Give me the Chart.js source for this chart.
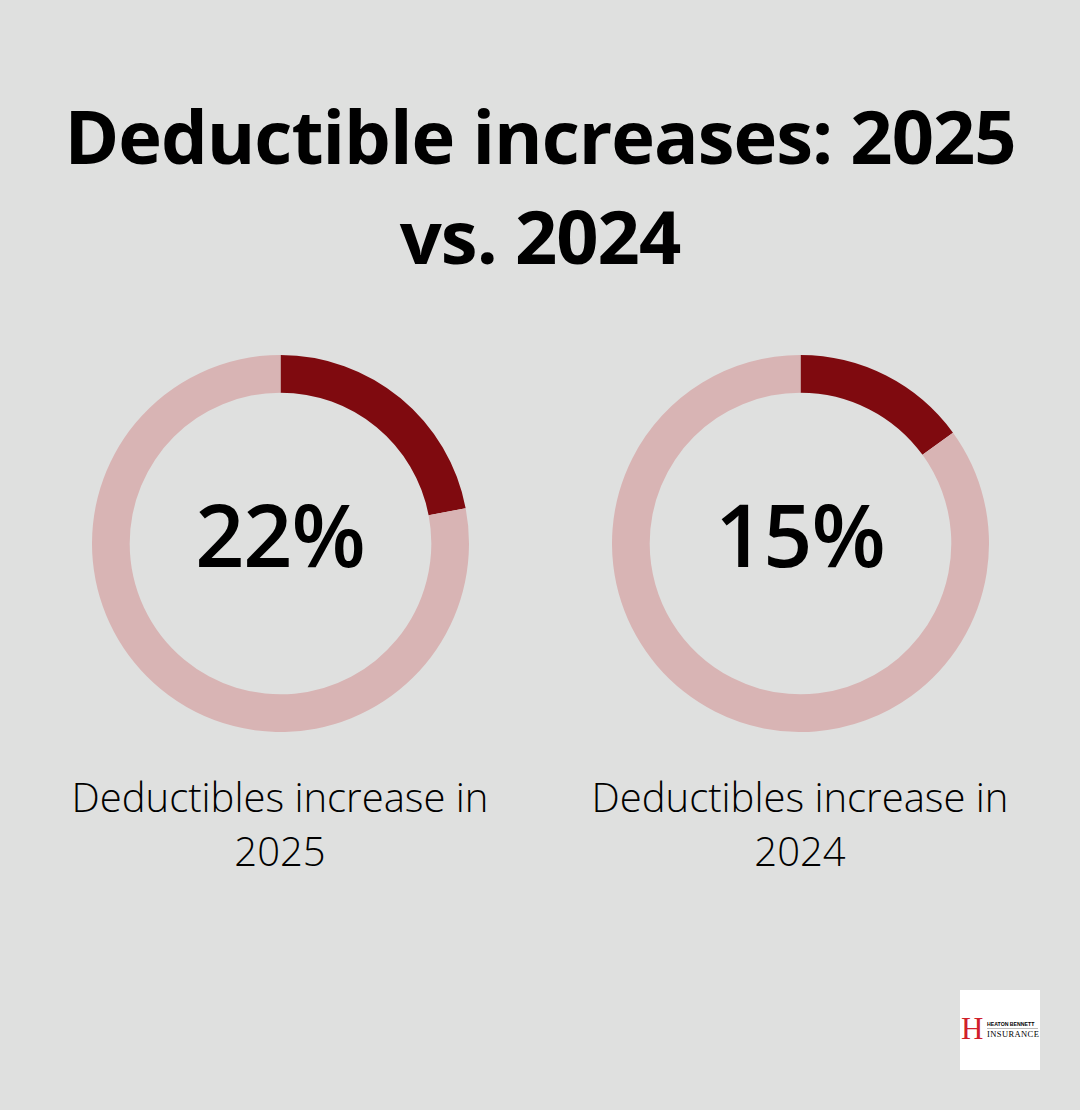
<!DOCTYPE html>
<html>
<head>
<meta charset="utf-8">
<script src="https://cdn.jsdelivr.net/npm/chart.js@4.4.7/dist/chart.umd.min.js"></script>
<style>
  html, body { margin: 0; padding: 0; }
  body { width: 1080px; height: 1110px; background: #dfe0df; position: relative; overflow: hidden; font-family: "Open Sans", sans-serif; color: #000; }
  h1 { position: absolute; left: 0; top: 86px; width: 1080px; margin: 0; text-align: center; font-weight: 700; font-size: 74px; letter-spacing: -1px; line-height: 100px; }
  .ring { position: absolute; top: 355px; width: 377px; height: 377px; }
  .ring canvas { display: block; }
  .pct { position: absolute; top: -10px; left: 0; width: 100%; height: 100%; display: flex; align-items: center; justify-content: center; font-size: 86px; font-weight: 600; letter-spacing: -1px; }
  .label { position: absolute; top: 770px; width: 520px; text-align: center; font-size: 40px; font-weight: 300; line-height: 54px; }
  .logo { position: absolute; left: 960px; top: 990px; width: 80px; height: 80px; background: #fff; }
  .logo .h { position: absolute; left: 1px; top: 24px; font-family: "Liberation Serif", serif; font-size: 31px; color: #d0202a; line-height: 30px; }
  .logo .t1 { position: absolute; left: 27px; top: 31px; font-family: "Liberation Sans", sans-serif; font-size: 5.2px; font-weight: 700; white-space: nowrap; line-height: 6px; }
  .logo .rule { position: absolute; left: 27px; top: 38px; width: 51px; height: 1px; background: #bbb; }
  .logo .t2 { position: absolute; left: 27px; top: 39px; font-family: "Liberation Serif", serif; font-size: 8.5px; letter-spacing: 0.4px; white-space: nowrap; line-height: 10px; }
</style>
</head>
<body>
<h1>Deductible increases: 2025<br>vs. 2024</h1>

<div class="ring" style="left:91.5px"><canvas id="c1"></canvas><div class="pct" id="p1"></div></div>
<div class="ring" style="left:611.5px"><canvas id="c2"></canvas><div class="pct" id="p2"></div></div>

<div class="label" style="left:20px" id="l1"></div>
<div class="label" style="left:540px" id="l2"></div>

<div class="logo"><span class="h">H</span><span class="t1">HEATON BENNETT</span><div class="rule"></div><span class="t2">INSURANCE</span></div>

<script>
const years = ['2025', '2024'];
const increases = [22, 15];
const labelPrefix = 'Deductibles increase in';
const colors = ['#7f0a0f', '#d8b4b4'];

years.forEach((year, i) => {
  const v = increases[i];
  document.getElementById('p' + (i + 1)).textContent = v + '%';
  document.getElementById('l' + (i + 1)).innerHTML = labelPrefix + '<br>' + year;

  new Chart(document.getElementById('c' + (i + 1)), {
    type: 'doughnut',
    data: {
      labels: ['Increase', 'Rest'],
      datasets: [{
        data: [v, 100 - v],
        backgroundColor: colors,
        borderWidth: 0,
        cutout: '80%'
      }]
    },
    options: {
      responsive: true,
      maintainAspectRatio: false,
      animation: false,
      layout: { padding: 0 },
      plugins: { legend: { display: false }, tooltip: { enabled: false } }
    }
  });
});
</script>
</body>
</html>
